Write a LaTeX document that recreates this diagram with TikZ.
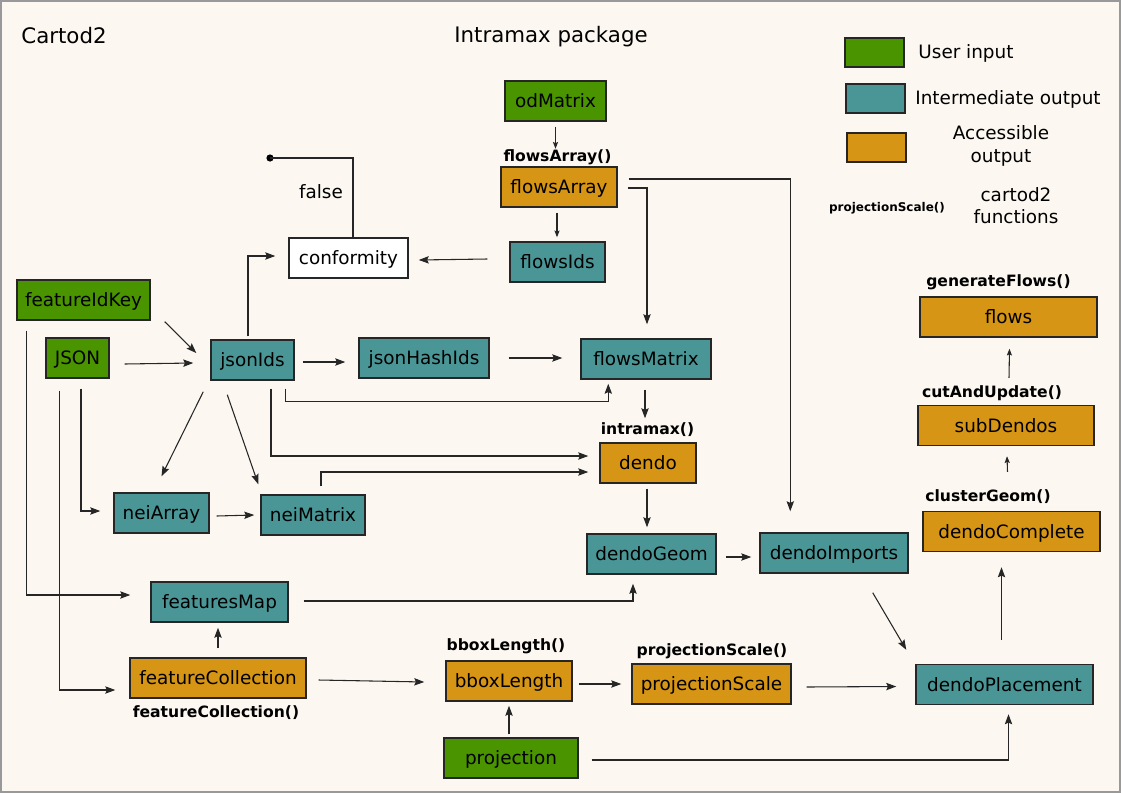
\documentclass[tikz,border=0pt]{standalone}
\usepackage{fontspec}
\setmainfont{DejaVu Sans}
\usetikzlibrary{arrows.meta, calc}

\definecolor{bgcream}{RGB}{252,248,241}
\definecolor{usergreen}{RGB}{74,148,0}
\definecolor{midteal}{RGB}{74,150,150}
\definecolor{accorange}{RGB}{214,149,20}

\begin{document}
\begin{tikzpicture}[x=0.75pt, y=-0.75pt, >={Stealth[length=7.5pt, width=5.5pt, inset=1.2pt]},
  font=\fontsize{13.8pt}{16pt}\selectfont,
  box/.style={draw=black!85, line width=1.1pt, minimum height=30pt, inner sep=0pt, text height=11pt, text depth=1pt},
  wd/.style={minimum width=#1*0.75pt},
  userin/.style={box, fill=usergreen},
  interm/.style={box, fill=midteal},
  access/.style={box, fill=accorange},
  keybox/.style={draw=black!85, line width=1pt, minimum width=44.25pt, minimum height=21.75pt, inner sep=0pt},
  fn/.style={font=\fontsize{11.7pt}{14pt}\selectfont\bfseries},
  title/.style={font=\fontsize{16pt}{19pt}\selectfont},
  line/.style={draw=black!85, line width=0.8pt},
  arr/.style={line, ->},
  sarr/.style={line, -{Stealth[length=5pt, width=3.8pt, inset=0.8pt]}}]

% Page
\fill[bgcream] (0,0) rectangle (1121,793);
\draw[black!40, line width=1.2pt] (0.8,0.8) rectangle (1120.2,792.2);
\useasboundingbox (0,0) rectangle (1121,793);

% Titles
\node[title] (cartodTitle) at (64,36) {Cartod2};
\node[title] (intramaxTitle) at (551,37) {Intramax package};

% Legend
\node[keybox, fill=usergreen]  (keyUser) at (874.5,52.5) {};
\node[keybox, fill=midteal]    (keyInter) at (875.5,98.5) {};
\node[keybox, fill=accorange]  (keyAcc) at (876.5,147.5) {};
\node (keyUserTxt) at (966,53) {User input};
\node (keyInterTxt) at (1008,99) {Intermediate output};
\node[align=center, font=\fontsize{13.8pt}{17.5pt}\selectfont] (keyAccTxt) at (1001,146) {Accessible\\ output};
\node[font=\fontsize{9pt}{11pt}\selectfont\bfseries] (keyFn) at (887,208) {projectionScale()};
\node[align=center, font=\fontsize{13.8pt}{16.5pt}\selectfont] (keyFnTxt) at (1016,206) {cartod2\\ functions};

% Boxes
\node[userin, wd=101] (odMatrix) at (555.5,101) {odMatrix};
\node[access, wd=116] (flowsArray) at (559,187) {flowsArray};
\node[interm, wd=95]  (flowsIds) at (557.5,262) {flowsIds};
\node[box, fill=white, wd=119] (conformity) at (348.5,258) {conformity};
\node[userin, wd=133] (featureIdKey) at (83.5,300) {featureIdKey};
\node[userin, wd=63]  (JSON) at (77.5,358) {JSON};
\node[interm, wd=83]  (jsonIds) at (252.5,360) {jsonIds};
\node[interm, wd=130] (jsonHashIds) at (424,358) {jsonHashIds};
\node[interm, wd=130] (flowsMatrix) at (646,359) {flowsMatrix};
\node[access, wd=96]  (dendo) at (648,463) {dendo};
\node[interm, wd=95]  (neiArray) at (161.5,513) {neiArray};
\node[interm, wd=104] (neiMatrix) at (313,515) {neiMatrix};
\node[interm, wd=129] (dendoGeom) at (651.5,554) {dendoGeom};
\node[interm, wd=148] (dendoImports) at (834,553) {dendoImports};
\node[interm, wd=137] (featuresMap) at (219.5,602) {featuresMap};
\node[access, wd=176] (featureCollection) at (218,678) {featureCollection};
\node[access, wd=126] (bboxLength) at (509,681) {bboxLength};
\node[access, wd=159] (projectionScale) at (711.5,684) {projectionScale};
\node[userin, wd=134] (projection) at (511,758) {projection};
\node[interm, wd=177] (dendoPlacement) at (1004.5,684.5) {dendoPlacement};
\node[access, wd=177] (dendoComplete) at (1011.5,531.5) {dendoComplete};
\node[access, wd=176] (subDendos) at (1006,425.5) {subDendos};
\node[access, wd=177] (flows) at (1008.5,317) {flows};

% Function names
\node[fn] (flowsArrayFn) at (557.5,157) {flowsArray()};
\node[fn] (intramaxFn) at (647.5,430) {intramax()};
\node[fn] (featureCollectionFn) at (216,713) {featureCollection()};
\node[fn] (bboxLengthFn) at (506,646) {bboxLength()};
\node[fn] (projectionScaleFn) at (712,651) {projectionScale()};
\node[fn] (clusterGeomFn) at (988,497) {clusterGeom()};
\node[fn] (cutAndUpdateFn) at (992,393) {cutAndUpdate()};
\node[fn] (generateFlowsFn) at (998.5,282) {generateFlows()};

% Conformity check
\coordinate (falseEnd) at (270,158);
\fill (falseEnd) circle (2.7pt);
\draw[line] ($(conformity.north)+(4.5,0)$) |- (falseEnd);
\node (falseLbl) at (321,192) {false};

% Intramax side
\draw[sarr] ($(odMatrix.south)+(0,5)$) -- ($(odMatrix.south)+(0,27)$);
\draw[sarr] ($(flowsArray.south)+(-2,5)$) -- ($(flowsIds.north)+(-0.5,-4)$);
\draw[arr] ($(flowsIds.west)+(-22,-3)$) -- ($(conformity.east)+(10,2)$);
\draw[arr] ($(flowsArray.east)+(10,1)$) -| ($(flowsMatrix.north)+(1,-14)$);
\draw[arr] ($(flowsArray.east)+(11,-8)$) -| ($(dendoImports.north west)+(31,-21)$);
\draw[arr] ($(flowsMatrix.south)+(-1,10)$) -- ($(dendo.north)+(-3,-24)$);
\draw[arr] ($(dendo.south)+(-1,5)$) -- ($(dendoGeom.north)+(-4.5,-6)$);
\draw[arr] ($(dendoGeom.east)+(9,3)$) -- ($(dendoImports.west)+(-8,4)$);
\draw[arr] ($(dendoImports.south east)+(-36,19)$) -- ($(dendoPlacement.north west)+(-9,-14)$);

% Cartod2 inputs
\draw[arr] ($(jsonIds.north)+(-4.5,-3)$) |- ($(conformity.west)+(-13,-2)$);
\draw[arr] ($(featureIdKey.south east)+(14,1)$) -- ($(jsonIds.west)+(-14,-7)$);
\draw[arr] ($(JSON.east)+(15,6)$) -- ($(jsonIds.west)+(-17,3)$);
\draw[arr] ($(jsonIds.east)+(8,2)$) -- ($(jsonHashIds.west)+(-13,4)$);
\draw[arr] ($(jsonHashIds.east)+(19,0)$) -- ($(flowsMatrix.west)+(-18,-1)$);
\draw[arr] ($(jsonIds.south east)+(-9,8)$) |- ($(flowsMatrix.south west)+(28,22)$) -- ($(flowsMatrix.south west)+(28,4)$);
\draw[arr] ($(jsonIds.south)+(18.5,8)$) |- ($(dendo.west)+(-11,-7)$);
\draw[arr] ($(neiMatrix.north)+(8,-8)$) |- ($(dendo.west)+(-11,9)$);
\draw[arr] ($(jsonIds.south west)+(-7,11)$) -- ($(neiArray.north)+(0,-16)$);
\draw[arr] ($(jsonIds.south west)+(17,14)$) -- ($(neiMatrix.north west)+(-2,-10)$);
\draw[arr] ($(JSON.south)+(3.5,10)$) |- ($(neiArray.west)+(-13,-2)$);
\draw[arr] ($(neiArray.east)+(7,3)$) -- ($(neiMatrix.west)+(-6,0)$);
\draw[arr] ($(featureIdKey.south west)+(10,10)$) |- ($(featuresMap.west)+(-20,-7)$);
\draw[arr] ($(JSON.south west)+(14,12)$) |- ($(featureCollection.west)+(-14,12)$);
\draw[arr] ($(featureCollection.north)+(0,-9)$) -- ($(featuresMap.south)+(-1.5,5)$);
\draw[arr] ($(featuresMap.east)+(15,-1)$) -| ($(dendoGeom.south)+(-18.5,9)$);

% Placement
\draw[arr] ($(featureCollection.east)+(12,2)$) -- ($(bboxLength.west)+(-21,1)$);
\draw[arr] ($(bboxLength.east)+(6,3)$) -- ($(projectionScale.west)+(-10,0)$);
\draw[arr] ($(projectionScale.east)+(15,3)$) -- ($(dendoPlacement.west)+(-19,2)$);
\draw[arr] ($(projection.north)+(-2,-3)$) -- ($(bboxLength.south)+(0,4)$);
\draw[arr] ($(projection.east)+(13,2)$) -| ($(dendoPlacement.south)+(4,9)$);
\draw[arr] ($(dendoPlacement.north)+(-3,-24)$) -- ($(dendoComplete.south)+(-10,15)$);
\draw[sarr] ($(dendoComplete.north)+(-4,-39)$) -- ($(subDendos.south)+(1,10)$);
\draw[sarr] ($(subDendos.north)+(3,-27)$) -- ($(flows.south)+(1,11)$);

\end{tikzpicture}
\end{document}
